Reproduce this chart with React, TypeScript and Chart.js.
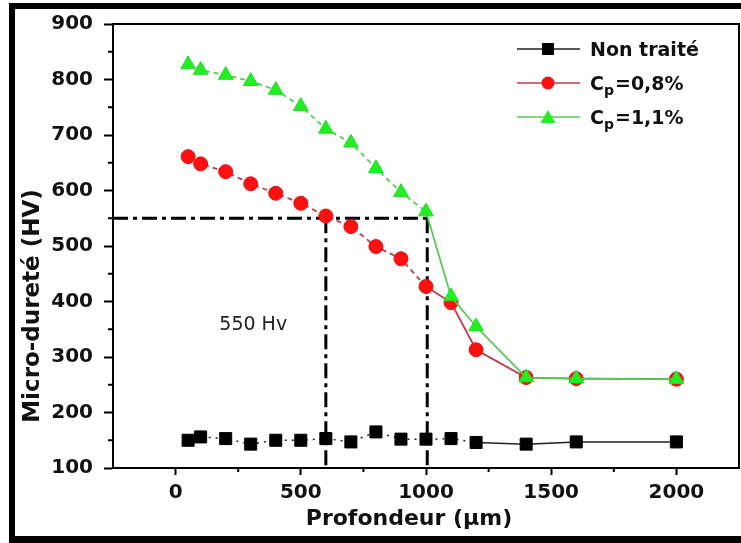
import React, { useEffect, useRef } from 'react';
import { Chart, registerables } from 'chart.js';

Chart.register(...registerables);

// ---- data ----
const depths = [50, 100, 200, 300, 400, 500, 600, 700, 800, 900, 1000, 1100, 1200, 1400, 1600, 2000];
const nonTraite = [150, 156, 153, 143, 150, 150, 153, 147, 165, 152, 152, 153, 146, 143, 147, 147];
const cp08 = [661, 648, 634, 612, 595, 577, 554, 535, 499, 477, 427, 398, 313, 263, 261, 260];
const cp11 = [827, 817, 808, 797, 781, 752, 711, 686, 640, 597, 562, 409, 355, 263, 261, 260];

const xTicks = [0, 500, 1000, 1500, 2000];
const xMinorTicks = [250, 750, 1250, 1750];
const yTicks = [100, 200, 300, 400, 500, 600, 700, 800, 900];
const yMinorTicks = [150, 250, 350, 450, 550, 650, 750, 850];

const refLevel = 550;
const refDepths = [600, 1005];
const refLabel = '550 Hv';
const refLabelPos = { x: 310, y: 358 };

const xTitle = 'Profondeur (µm)';
const yTitle = 'Micro-dureté (HV)';
const legendNames = ['Non traité', 'C|p|=0,8%', 'C|p|=1,1%'];

const RED = '#ff1010';
const RED_LINE = '#c43a4a';
const GREEN = '#22ee22';
const GREEN_LINE = '#55cc55';

const pts = (ys: number[]) => depths.map((x, i) => ({ x, y: ys[i] }));

const decorPlugin = {
  id: 'decor',
  beforeDraw(chart: any) {
    const ctx = chart.ctx;
    ctx.save();
    ctx.fillStyle = '#ffffff';
    ctx.fillRect(0, 0, chart.width, chart.height);
    ctx.restore();
  },
  afterDraw(chart: any) {
    const ctx = chart.ctx;
    const { left, right, top, bottom } = chart.chartArea;
    const xs = chart.scales.x;
    const ys = chart.scales.y;
    ctx.save();
    // outer frame
    ctx.fillStyle = '#000';
    ctx.fillRect(9, 3, 6, 540);
    ctx.fillRect(9, 3, 732, 6);
    ctx.fillRect(9, 536, 732, 7);
    // plot box top/right
    ctx.strokeStyle = '#000';
    ctx.lineWidth = 2;
    ctx.beginPath();
    ctx.moveTo(left, top);
    ctx.lineTo(right, top);
    ctx.lineTo(right, bottom);
    ctx.stroke();
    // minor ticks
    ctx.lineWidth = 2;
    ctx.beginPath();
    xMinorTicks.forEach((v) => {
      const px = xs.getPixelForValue(v);
      ctx.moveTo(px, bottom);
      ctx.lineTo(px, bottom + 4);
    });
    yMinorTicks.forEach((v) => {
      const py = ys.getPixelForValue(v);
      ctx.moveTo(left, py);
      ctx.lineTo(left - 5, py);
    });
    ctx.stroke();

    // titles
    ctx.fillStyle = '#111';
    ctx.font = 'bold 22px "DejaVu Sans"';
    ctx.textAlign = 'center';
    ctx.textBaseline = 'middle';
    ctx.fillText(xTitle, 409, 519);
    ctx.save();
    ctx.translate(33, 306);
    ctx.rotate(-Math.PI / 2);
    ctx.font = 'bold 23px "DejaVu Sans"';
    ctx.fillText(yTitle, 0, 0);
    ctx.restore();

    // annotation
    ctx.font = '19px "DejaVu Sans"';
    ctx.fillStyle = '#222';
    ctx.fillText(refLabel, xs.getPixelForValue(refLabelPos.x), ys.getPixelForValue(refLabelPos.y));

    // legend
    const rows = [49, 83, 117];
    const lineCols = ['#222', RED_LINE, GREEN_LINE];
    rows.forEach((ry, i) => {
      ctx.strokeStyle = lineCols[i];
      ctx.lineWidth = 1.5;
      ctx.beginPath();
      ctx.moveTo(517, ry);
      ctx.lineTo(580, ry);
      ctx.stroke();
      const mx = 548;
      if (i === 0) {
        ctx.fillStyle = '#000';
        ctx.fillRect(mx - 6, ry - 6, 12, 12);
      } else if (i === 1) {
        ctx.fillStyle = RED;
        ctx.beginPath();
        ctx.arc(mx, ry, 6.5, 0, Math.PI * 2);
        ctx.fill();
      } else {
        ctx.fillStyle = GREEN;
        ctx.beginPath();
        ctx.moveTo(mx, ry - 7);
        ctx.lineTo(mx + 7.5, ry + 6);
        ctx.lineTo(mx - 7.5, ry + 6);
        ctx.closePath();
        ctx.fill();
      }
      // text
      ctx.fillStyle = '#111';
      ctx.textAlign = 'left';
      ctx.textBaseline = 'alphabetic';
      const base = ry + 7;
      const parts = legendNames[i].split('|');
      let tx = 590;
      parts.forEach((p, k) => {
        if (k === 1) {
          ctx.font = 'bold 14px "DejaVu Sans"';
          ctx.fillText(p, tx, base + 5);
        } else {
          ctx.font = 'bold 19px "DejaVu Sans"';
          ctx.fillText(p, tx, base);
        }
        tx += ctx.measureText(p).width + (k === 1 ? 1 : 0);
      });
    });
    ctx.restore();
  },
};

export default function App() {
  const ref = useRef<HTMLCanvasElement | null>(null);
  useEffect(() => {
    if (!ref.current) return;
    const refDash = [15, 5, 4, 5];
    const chart = new Chart(ref.current, {
      type: 'line',
      data: {
        datasets: [
          {
            label: 'ref-h',
            data: [{ x: -250, y: refLevel }, { x: refDepths[1], y: refLevel }],
            borderColor: '#000',
            borderWidth: 3,
            borderDash: refDash,
            pointRadius: 0,
            order: 10,
          } as any,
          ...refDepths.map((d) => ({
            label: 'ref-v',
            data: [{ x: d, y: refLevel }, { x: d, y: 100 }],
            borderColor: '#000',
            borderWidth: 3,
            borderDash: refDash,
            pointRadius: 0,
            order: 10,
          })),
          {
            label: 'Non traité',
            data: pts(nonTraite),
            borderColor: '#222',
            borderWidth: 1.5,
            pointStyle: 'rect',
            pointRadius: 8.5,
            pointBackgroundColor: '#000',
            pointBorderColor: '#000',
            pointBorderWidth: 1,
            segment: { borderDash: (c: any) => (c.p0.parsed.x < 1200 ? [2, 5] : undefined) },
            order: 3,
          },
          {
            label: 'Cp=0,8%',
            data: pts(cp08),
            borderColor: RED_LINE,
            borderWidth: 1.8,
            pointStyle: 'circle',
            pointRadius: 7,
            pointBackgroundColor: RED,
            pointBorderColor: '#e81010',
            pointBorderWidth: 1,
            segment: { borderDash: (c: any) => (c.p0.parsed.x < 1000 ? [5, 4] : undefined) },
            order: 2,
          },
          {
            label: 'Cp=1,1%',
            data: pts(cp11),
            borderColor: GREEN_LINE,
            borderWidth: 1.8,
            pointStyle: 'triangle',
            pointRadius: 8.5,
            pointBackgroundColor: GREEN,
            pointBorderColor: '#1ee01e',
            pointBorderWidth: 1,
            segment: { borderDash: (c: any) => (c.p0.parsed.x < 1000 ? [5, 4] : undefined) },
            order: 1,
          },
        ],
      },
      options: {
        responsive: false,
        animation: false,
        devicePixelRatio: 1,
        layout: { autoPadding: false, padding: { left: 0, top: 24, right: 2, bottom: 0 } },
        plugins: { legend: { display: false }, tooltip: { enabled: false } },
        scales: {
          x: {
            type: 'linear',
            min: -250,
            max: 2250,
            afterBuildTicks: (s: any) => {
              s.ticks = xTicks.map((v) => ({ value: v }));
            },
            afterFit: (s: any) => {
              s.height = 75;
              s.paddingLeft = 0;
              s.paddingRight = 0;
            },
            border: { display: true, color: '#000', width: 2 },
            grid: { drawOnChartArea: false, drawTicks: true, tickLength: 7, tickColor: '#000', tickWidth: 2 },
            ticks: {
              color: '#111',
              font: { family: 'DejaVu Sans', size: 20, weight: 'bold' },
              padding: 6,
              maxRotation: 0,
              callback: (v: any) => String(v),
            },
          },
          y: {
            type: 'linear',
            min: 100,
            max: 900,
            afterBuildTicks: (s: any) => {
              s.ticks = yTicks.map((v) => ({ value: v }));
            },
            afterFit: (s: any) => {
              s.width = 113;
              s.paddingTop = 0;
              s.paddingBottom = 0;
            },
            border: { display: true, color: '#000', width: 2 },
            grid: { drawOnChartArea: false, drawTicks: true, tickLength: 9, tickColor: '#000', tickWidth: 2 },
            ticks: {
              color: '#111',
              font: { family: 'DejaVu Sans', size: 20, weight: 'bold' },
              padding: 11,
              callback: (v: any) => String(v),
            },
          },
        },
      } as any,
      plugins: [decorPlugin],
    });
    return () => chart.destroy();
  }, []);
  return (
    <div style={{ position: 'absolute', left: 0, top: 0, width: 741, height: 543 }}>
      <canvas ref={ref} width={741} height={543} style={{ display: 'block' }} />
    </div>
  );
}
